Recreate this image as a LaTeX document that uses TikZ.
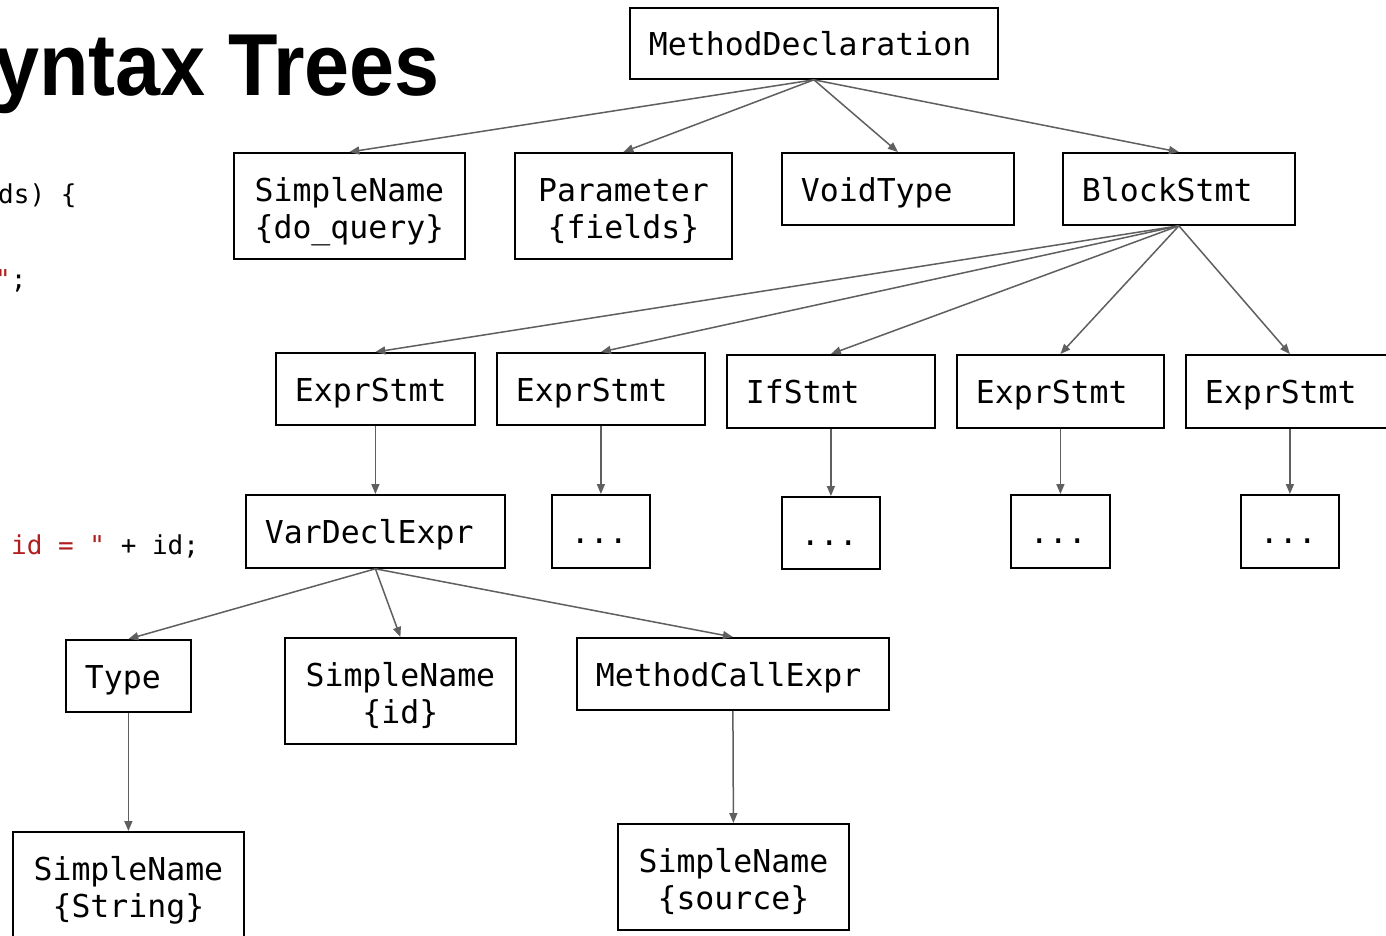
\documentclass[tikz,border=0pt]{standalone}
\usepackage{fontspec}
\usetikzlibrary{arrows.meta}
\newfontfamily\monofam{DejaVu Sans Mono}
\newfontfamily\titlefam{Liberation Sans}
\definecolor{edgegray}{HTML}{5F5F5F}
\definecolor{codered}{HTML}{B01E1E}
\newcommand{\boxfont}{\monofam\fontsize{31.5pt}{37.5pt}\selectfont}
\newcommand{\codefont}{\monofam\fontsize{26pt}{30pt}\selectfont}
\tikzset{
  box/.style={draw=black, line width=1.8pt, inner ysep=0pt, inner xsep=19pt, anchor=north west, font=\boxfont},
  lbox/.style={box, align=left, text height=25pt, text depth=0pt},
  cbox/.style={box, align=center, text height=28pt, text depth=37.5pt},
  edge/.style={draw=edgegray, line width=1.5pt, -{Triangle[length=10pt,width=8pt]}},
  code/.style={inner sep=0pt, anchor=base west, font=\codefont}
}
\begin{document}
\begin{tikzpicture}[x=1pt,y=-1pt]
\useasboundingbox (0,0) rectangle (1386,935);
\fill[white] (0,0) rectangle (1386,935);
\clip (0,0) rectangle (1386,935);

% title and code fragments
\node[inner sep=0pt, anchor=base east, font=\titlefam\bfseries\fontsize{88pt}{90pt}\selectfont] (title) at (440,95) {\scalebox{0.92}[1]{yntax Trees}};
\node[code] (c1) at (-2,203) {ds) \{};
\node[code] (c2) at (-5,288) {\textcolor{codered}{"};};
\node[code] (c3) at (11,554) {\textcolor{codered}{id = "} + id;};

% nodes
\node[lbox, text width=330pt, minimum height=71pt] (md) at (629,7) {MethodDeclaration};
\node[cbox, text width=193pt, minimum height=106pt] (sn1) at (233,152) {SimpleName\\\{do\_query\}};
\node[cbox, text width=179pt, minimum height=106pt] (par) at (514,152) {Parameter\\\{fields\}};
\node[lbox, text width=194pt, minimum height=72pt] (vt) at (781,152) {VoidType};
\node[lbox, text width=194pt, minimum height=72pt] (bs) at (1062,152) {BlockStmt};

\node[lbox, text width=161pt, minimum height=72pt] (e1) at (275,352) {ExprStmt};
\node[lbox, text width=170pt, minimum height=72pt] (e2) at (496,352) {ExprStmt};
\node[lbox, text width=170pt, minimum height=73pt] (ifs) at (726,354) {IfStmt};
\node[lbox, text width=169pt, minimum height=73pt] (e3) at (956,354) {ExprStmt};
\node[lbox, text width=170pt, minimum height=73pt] (e4) at (1185,354) {ExprStmt};

\node[lbox, text width=221pt, minimum height=73pt] (vde) at (245,494) {VarDeclExpr};
\node[lbox, text width=60pt, minimum height=73pt] (d1) at (551,494) {...};
\node[lbox, text width=60pt, minimum height=72pt] (d2) at (781,496) {...};
\node[lbox, text width=61pt, minimum height=73pt] (d3) at (1010,494) {...};
\node[lbox, text width=60pt, minimum height=73pt] (d4) at (1240,494) {...};

\node[lbox, text width=87pt, minimum height=72pt] (ty) at (65,639) {Type};
\node[cbox, text width=193pt, minimum height=106pt] (snid) at (284,637) {SimpleName\\\{id\}};
\node[lbox, text width=274pt, minimum height=72pt] (mce) at (576,637) {MethodCallExpr};

\node[cbox, text width=193pt, minimum height=106pt] (snstr) at (12,831) {SimpleName\\\{String\}};
\node[cbox, text width=193pt, minimum height=106pt] (snsrc) at (617,823) {SimpleName\\\{source\}};

% edges
\foreach \c in {sn1,par,vt,bs} \draw[edge] (md.south) -- (\c.north);
\foreach \c in {e1,e2,ifs,e3,e4} \draw[edge] (bs.south) -- (\c.north);
\draw[edge] (e1.south) -- (vde.north);
\draw[edge] (e2.south) -- (d1.north);
\draw[edge] (ifs.south) -- (d2.north);
\draw[edge] (e3.south) -- (d3.north);
\draw[edge] (e4.south) -- (d4.north);
\foreach \c in {ty,snid,mce} \draw[edge] (vde.south) -- (\c.north);
\draw[edge] (ty.south) -- (snstr.north);
\draw[edge] (mce.south) -- (snsrc.north);
\end{tikzpicture}
\end{document}
